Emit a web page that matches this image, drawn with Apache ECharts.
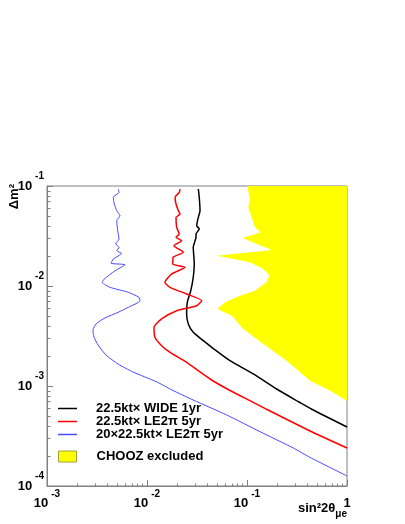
<!DOCTYPE html>
<html>
<head>
<meta charset="utf-8">
<script src="https://cdn.jsdelivr.net/npm/echarts@6/dist/echarts.min.js"></script>
<style>
  html, body { margin: 0; padding: 0; background: #fff; }
  #chart { width: 405px; height: 524px; }
</style>
</head>
<body>
<div id="chart"></div>
<script>
// points are [sin^2 2theta, delta m^2]
const wide1yr = [
  [0.0326, 0.0933], [0.0333, 0.0771], [0.0339, 0.0566], [0.0326, 0.0486], [0.0314, 0.0401],
  [0.0333, 0.0372], [0.0309, 0.0331], [0.0309, 0.0307], [0.0290, 0.0244], [0.0297, 0.0166],
  [0.0290, 0.0122], [0.0274, 0.00898], [0.0253, 0.00687], [0.0249, 0.00525], [0.0259, 0.00417],
  [0.0290, 0.00344], [0.0366, 0.00284], [0.0468, 0.00234], [0.0676, 0.00179], [0.1156, 0.00132],
  [0.198, 0.000933], [0.331, 0.000692], [0.444, 0.000585], [1, 0.000389]
];
const le2pi5yr = [
  [0.0214, 0.0933], [0.0210, 0.0865], [0.0191, 0.0771], [0.0195, 0.0661], [0.0206, 0.0566],
  [0.0214, 0.0525], [0.0195, 0.0486], [0.0198, 0.0386], [0.0210, 0.0331], [0.0195, 0.0307],
  [0.0222, 0.0284], [0.0186, 0.0253], [0.0231, 0.0217], [0.0183, 0.0194], [0.0181, 0.0166],
  [0.0240, 0.0154], [0.0177, 0.0132], [0.0151, 0.0109], [0.0170, 0.0097], [0.0249, 0.00832],
  [0.0352, 0.00713], [0.0314, 0.00635], [0.0198, 0.00566], [0.0140, 0.00468], [0.01175, 0.00386],
  [0.0120, 0.00307], [0.0140, 0.00253], [0.0170, 0.00217], [0.0245, 0.00174], [0.0427, 0.001175],
  [0.0676, 0.000902], [0.1156, 0.000687], [0.157, 0.000585], [0.427, 0.000355], [1, 0.000240]
];
const le2pi5yr20 = [
  [0.00516, 0.0933], [0.00525, 0.0865], [0.00460, 0.0771], [0.00471, 0.0661], [0.00498, 0.0566],
  [0.00537, 0.0505], [0.00498, 0.0450], [0.00509, 0.0357], [0.00525, 0.0295], [0.00486, 0.0263],
  [0.00525, 0.0244], [0.00498, 0.0225], [0.00558, 0.0212], [0.00460, 0.0186], [0.00437, 0.0169],
  [0.00603, 0.0163], [0.00479, 0.0142], [0.00374, 0.01175], [0.00357, 0.0109], [0.00427, 0.0097],
  [0.00650, 0.00865], [0.00832, 0.00771], [0.00851, 0.00713], [0.00650, 0.00612], [0.00516, 0.00546],
  [0.00380, 0.00479], [0.00309, 0.00417], [0.00288, 0.00363], [0.00295, 0.00309], [0.00324, 0.00257],
  [0.00389, 0.00204], [0.00513, 0.00166], [0.00724, 0.00138], [0.0125, 0.00110], [0.0178, 0.000912],
  [0.0290, 0.000724], [0.0627, 0.000513], [0.135, 0.000349], [0.290, 0.000240], [0.427, 0.000193],
  [1, 0.000126]
];
// left edge of the CHOOZ excluded region, top to bottom
const choozEdge = [
  [0.1007, 0.1], [0.107, 0.0741], [0.103, 0.0612], [0.120, 0.0386], [0.137, 0.0344],
  [0.0906, 0.0302], [0.125, 0.0263], [0.177, 0.0229], [0.0505, 0.0201], [0.107, 0.0173],
  [0.146, 0.0148], [0.167, 0.0128], [0.157, 0.0109], [0.120, 0.00898], [0.0851, 0.0080],
  [0.0603, 0.00687], [0.0505, 0.00589], [0.0703, 0.00505], [0.0918, 0.00372], [0.146, 0.00263],
  [0.249, 0.00179], [0.427, 0.00113], [0.676, 0.000897], [1, 0.000713]
];
const xMinorTicks = [0.002, 0.003, 0.004, 0.005, 0.006, 0.007, 0.008, 0.009,
  0.02, 0.03, 0.04, 0.05, 0.06, 0.07, 0.08, 0.09,
  0.2, 0.3, 0.4, 0.5, 0.6, 0.7, 0.8, 0.9];
const yMinorTicks = [0.0002, 0.0003, 0.0004, 0.0005, 0.0006, 0.0007, 0.0008, 0.0009,
  0.002, 0.003, 0.004, 0.005, 0.006, 0.007, 0.008, 0.009,
  0.02, 0.03, 0.04, 0.05, 0.06, 0.07, 0.08, 0.09];
const seriesNames = ['22.5kt\u00d7 WIDE 1yr', '22.5kt\u00d7 LE2\u03c0 5yr',
  '20\u00d722.5kt\u00d7 LE2\u03c0 5yr', 'CHOOZ excluded'];
const lineColors = ['#000000', '#ff0000', '#4a4aff'];

const font = 'Liberation Sans, Arial, Helvetica, sans-serif';
const gray = '#808080';

const labelRich = {
  b: { fontFamily: font, fontWeight: 'bold', fontSize: 13, lineHeight: 13, color: '#000', verticalAlign: 'bottom' },
  s: { fontFamily: font, fontWeight: 'bold', fontSize: 10, lineHeight: 10, color: '#000', padding: [0, 0, 11, 3], verticalAlign: 'bottom' },
  c: { fontFamily: font, fontWeight: 'bold', fontSize: 13, lineHeight: 13, color: '#000', padding: [8, 0, 0, 0], verticalAlign: 'bottom' }
};
function powLabel(v) {
  const e = Math.round(Math.log10(v));
  if (e === 0) return '{c|1}';
  return '{b|10}{s|' + e + '}';
}

// small inward tick for minor log positions
function minorTick(isX) {
  return function (params, api) {
    const p = api.coord([api.value(0), api.value(1)]);
    const x = Math.round(p[0]) + 0.5, y = Math.round(p[1]) + 0.5;
    return {
      type: 'line',
      shape: isX ? { x1: x, y1: y, x2: x, y2: y - 3 } : { x1: x, y1: y, x2: x + 3, y2: y },
      style: { stroke: gray, lineWidth: 1 }
    };
  };
}

const chart = echarts.init(document.getElementById('chart'));
chart.setOption({
  animation: false,
  backgroundColor: '#fff',
  grid: { left: 47, top: 186, width: 300, height: 300, show: true, borderColor: gray, borderWidth: 1 },
  xAxis: {
    type: 'log', logBase: 10, min: 0.001, max: 1,
    axisLine: { show: true, onZero: false, lineStyle: { color: gray, width: 1 } },
    axisTick: { show: true, inside: true, length: 6, lineStyle: { color: gray } },
    splitLine: { show: false },
    axisLabel: { margin: 11, formatter: powLabel, rich: labelRich, showMinLabel: true, showMaxLabel: true },
    name: '{a|sin\u00b22\u03b8}{u|\u03bce}',
    nameLocation: 'end', nameGap: 0, nameMoveOverlap: false,
    nameTextStyle: {
      align: 'right', verticalAlign: 'top', padding: [20, 0, 0, 0],
      rich: {
        a: { fontFamily: font, fontWeight: 'bold', fontSize: 13, lineHeight: 13, color: '#000', padding: [0, 0, 4, 0], verticalAlign: 'bottom' },
        u: { fontFamily: font, fontWeight: 'bold', fontSize: 10, lineHeight: 10, color: '#000', padding: [6, 0, 0, 0], verticalAlign: 'bottom' }
      }
    }
  },
  yAxis: {
    type: 'log', logBase: 10, min: 0.0001, max: 0.1,
    axisLine: { show: true, onZero: false, lineStyle: { color: gray, width: 1 } },
    axisTick: { show: true, inside: true, length: 6, lineStyle: { color: gray } },
    splitLine: { show: false },
    axisLabel: { margin: 3, formatter: powLabel, rich: labelRich, showMinLabel: true, showMaxLabel: true }
  },
  legend: [
    {
      data: seriesNames.slice(0, 3).map((n, i) => ({ name: n, icon: 'rect', itemStyle: { color: lineColors[i] } })),
      orient: 'vertical', left: 58, top: 402, padding: 0,
      itemGap: 0, itemWidth: 19, itemHeight: 1.5, selectedMode: false,
      textStyle: { fontFamily: font, fontWeight: 'bold', fontSize: 13, lineHeight: 12, color: '#000', padding: [0, 0, 0, 14] }
    },
    {
      data: [{ name: seriesNames[3], icon: 'rect', itemStyle: { color: '#ffff00', borderColor: '#a0a040', borderWidth: 1 } }],
      orient: 'vertical', left: 58, top: 450, padding: 0,
      itemWidth: 18, itemHeight: 11, selectedMode: false,
      textStyle: { fontFamily: font, fontWeight: 'bold', fontSize: 13, lineHeight: 12, color: '#000', padding: [0, 0, 0, 15] }
    }
  ],
  graphic: [{
    type: 'text', x: 21, y: 184, rotation: Math.PI / 2,
    style: { text: '\u0394m\u00b2', font: 'bold 13px ' + font, fill: '#000', align: 'right', verticalAlign: 'bottom' }
  }],
  series: [
    {
      name: seriesNames[3], type: 'custom', data: [[1, 0.1]], z: 1, silent: true,
      itemStyle: { color: '#ffff00' },
      renderItem: function (params, api) {
        const pts = choozEdge.map(p => api.coord(p));
        pts.push(api.coord([1, 0.1]));
        return { type: 'polygon', shape: { points: pts }, style: { fill: '#ffff00' } };
      }
    },
    {
      name: seriesNames[0], type: 'line', data: wide1yr, symbol: 'none', smooth: 0.2, z: 3,
      lineStyle: { color: lineColors[0], width: 1.5 }, itemStyle: { color: lineColors[0] }
    },
    {
      name: seriesNames[1], type: 'line', data: le2pi5yr, symbol: 'none', smooth: 0.2, z: 3,
      lineStyle: { color: lineColors[1], width: 1.5 }, itemStyle: { color: lineColors[1] }
    },
    {
      name: seriesNames[2], type: 'line', data: le2pi5yr20, symbol: 'none', smooth: 0.2, z: 3,
      lineStyle: { color: lineColors[2], width: 1 }, itemStyle: { color: lineColors[2] }
    },
    { type: 'custom', data: xMinorTicks.map(v => [v, 0.0001]), renderItem: minorTick(true), silent: true, z: 5 },
    { type: 'custom', data: yMinorTicks.map(v => [0.001, v]), renderItem: minorTick(false), silent: true, z: 5 }
  ]
});
</script>
</body>
</html>
